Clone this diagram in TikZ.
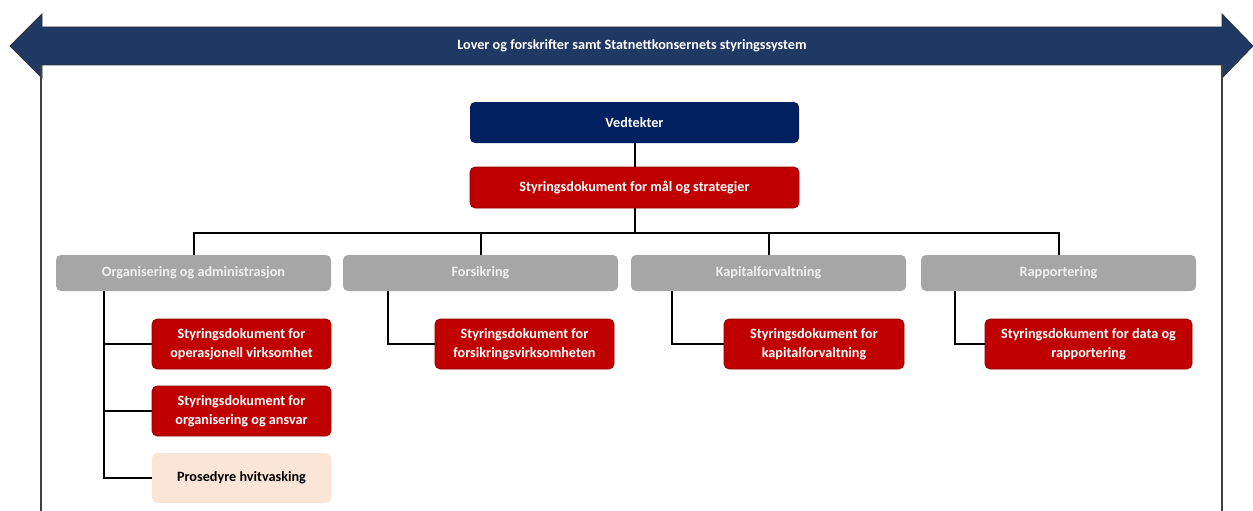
\documentclass[tikz,border=0pt]{standalone}
\usepackage{fontspec}
\setmainfont{Carlito}
\usepackage{tikz}
\definecolor{bandnavy}{HTML}{203864}
\definecolor{boxnavy}{HTML}{002060}
\definecolor{boxred}{HTML}{C00000}
\definecolor{boxgray}{HTML}{A6A6A6}
\definecolor{boxpeach}{HTML}{FBE5D6}
\definecolor{framegray}{HTML}{404040}

\tikzset{
  docbox/.style={rounded corners=5pt, inner sep=0pt, align=center,
    font=\fontsize{14.2}{19}\selectfont\bfseries},
  topbox/.style={docbox, fill=boxnavy, text=white, minimum width=329pt, minimum height=41pt},
  redbox/.style={docbox, fill=boxred, draw=boxred!75!black, line width=0.6pt, text=white,
    minimum height=50pt},
  areabox/.style={docbox, fill=boxgray, text=white!94!black, minimum width=275pt, minimum height=36pt},
  procbox/.style={docbox, fill=boxpeach, text=black, minimum width=179pt, minimum height=50pt},
  conn/.style={line width=2pt, black},
}

\begin{document}
\begin{tikzpicture}[x=1pt,y=-1pt]
  \useasboundingbox (0,0) rectangle (1253,511);

  % band arrow and frame
  \fill[bandnavy, draw=black!80, line width=0.8pt]
    (10,46) -- (42,14) -- (42,27) -- (1222,27) -- (1222,14) -- (1253,46)
    -- (1222,78) -- (1222,65) -- (42,65) -- (42,78) -- cycle;
  \draw[framegray, line width=1.5pt] (41,65) -- (41,511);
  \draw[framegray, line width=1.5pt] (1222,65) -- (1222,511);
  \node[white, font=\fontsize{14.2}{17}\selectfont\bfseries] (band) at (632,46)
    {Lover og forskrifter samt Statnettkonsernets styringssystem};

  % top of tree
  \node[topbox] (ved) at (634.5,122.5) {Vedtekter};
  \node[redbox, minimum width=329pt, minimum height=41pt] (mal) at (634.5,187.5)
    {Styringsdokument for mål og strategier};
  \coordinate (bus) at (634.5,233);

  % areas
  \node[areabox] (org)  at (193.5,273) {Organisering og administrasjon};
  \node[areabox] (fors) at (480.5,273) {Forsikring};
  \node[areabox] (kap)  at (768.5,273) {Kapitalforvaltning};
  \node[areabox] (rap)  at (1058.5,273) {Rapportering};

  % documents
  \node[redbox, minimum width=179pt] (orgops) at (241.5,344) {Styringsdokument for\\operasjonell virksomhet};
  \node[redbox, minimum width=179pt] (organs) at (241.5,411) {Styringsdokument for\\organisering og ansvar};
  \node[procbox] (orghvit) at (241.5,478) {Prosedyre hvitvasking};
  \node[redbox, minimum width=179pt] (forsdok) at (524.5,344) {Styringsdokument for\\forsikringsvirksomheten};
  \node[redbox, minimum width=180pt] (kapdok) at (814,344) {Styringsdokument for\\kapitalforvaltning};
  \node[redbox, minimum width=207pt] (rapdok) at (1088.5,344) {Styringsdokument for data og\\rapportering};

  % connectors
  \draw[conn] (ved) -- (mal);
  \draw[conn] (mal) -- (bus);
  \foreach \area in {org,fors,kap,rap}
    \draw[conn] (bus) -| (\area.north);
  \draw[conn] ([xshift=48pt]org.south west) |- (orghvit.west);
  \draw[conn] ([xshift=48pt]org.south west |- orgops.west) -- (orgops.west);
  \draw[conn] ([xshift=48pt]org.south west |- organs.west) -- (organs.west);
  \draw[conn] ([xshift=45pt]fors.south west) |- (forsdok.west);
  \draw[conn] ([xshift=41pt]kap.south west) |- (kapdok.west);
  \draw[conn] ([xshift=34pt]rap.south west) |- (rapdok.west);
\end{tikzpicture}
\end{document}
